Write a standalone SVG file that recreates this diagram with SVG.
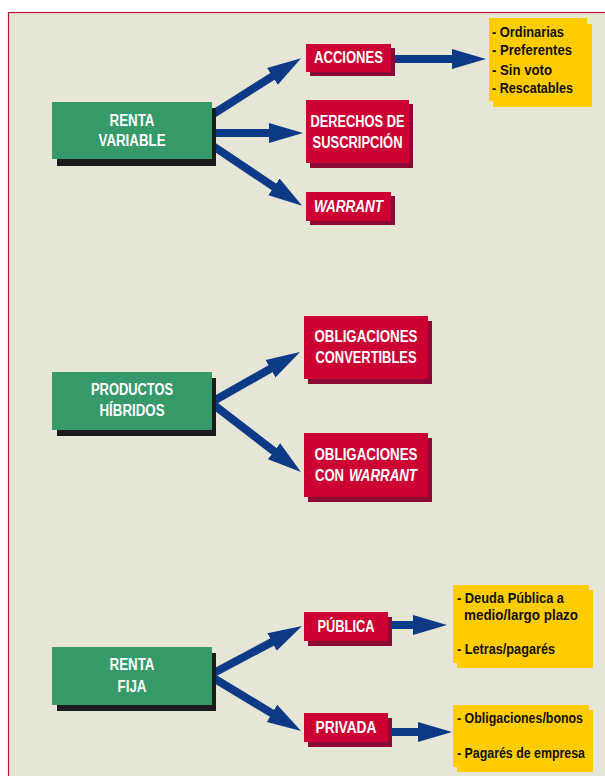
<svg xmlns="http://www.w3.org/2000/svg" width="605" height="776" viewBox="0 0 605 776">
  <style>
    .lbl { font-family: "Liberation Sans", Arial, sans-serif; font-weight: bold; font-size: 16px; fill: #ffffff; text-anchor: middle; }
    .start { text-anchor: start; }
    .lst { font-family: "Liberation Sans", Arial, sans-serif; font-weight: bold; font-size: 15px; fill: #111111; }
    .it { font-style: italic; }
    .green { fill: #35996a; }
    .gshadow { fill: #1b1b1b; }
    .red { fill: #cc0033; }
    .rshadow { fill: #880a35; }
    .yellow { fill: #ffcc00; }
    .conn line { stroke: #0c3a86; stroke-width: 8; fill: none; marker-end: url(#head); }
  </style>
  <defs>
    <marker id="head" markerUnits="userSpaceOnUse" markerWidth="40" markerHeight="24" viewBox="0 -12 40 24" refX="2" refY="0" orient="auto">
      <path d="M0,-10 L34,0 L0,10 Z" fill="#0c3a86"/>
    </marker>
  </defs>

  <!-- page and frame -->
  <rect x="0" y="0" width="605" height="776" fill="#ffffff"/>
  <rect x="8.5" y="12.5" width="620" height="800" fill="#e6e6d6" stroke="#b8163f" stroke-width="1.2"/>

  <!-- connectors -->
  <g id="connectors" class="conn">
    <line x1="210" y1="116" x2="274.1" y2="75.3"/>
    <line x1="210" y1="133" x2="271" y2="133"/>
    <line x1="210" y1="144" x2="275.6" y2="188"/>
    <line x1="390" y1="59" x2="454" y2="59"/>
    <line x1="210" y1="403" x2="272.2" y2="367.8"/>
    <line x1="210" y1="402" x2="275.6" y2="452.5"/>
    <line x1="210" y1="675" x2="273.8" y2="641.1"/>
    <line x1="210" y1="676" x2="273.7" y2="714.4"/>
    <line x1="388" y1="625" x2="415" y2="625"/>
    <line x1="388" y1="732" x2="420" y2="732"/>
  </g>

  <!-- renta variable -->
  <g id="renta-variable">
    <rect class="gshadow" x="57" y="108" width="159" height="58"/>
    <rect class="green" x="52" y="102" width="160" height="57"/>
    <text class="lbl" x="132" y="126" textLength="45" lengthAdjust="spacingAndGlyphs">RENTA</text>
    <text class="lbl" x="132" y="146" textLength="67" lengthAdjust="spacingAndGlyphs">VARIABLE</text>
  </g>

  <g id="acciones">
    <rect class="rshadow" x="310" y="48" width="85" height="28"/>
    <rect class="red" x="306" y="44" width="85" height="28"/>
    <text class="lbl" x="348.5" y="63" textLength="69" lengthAdjust="spacingAndGlyphs">ACCIONES</text>
  </g>

  <g id="derechos">
    <rect class="rshadow" x="310" y="104" width="103" height="64"/>
    <rect class="red" x="306" y="100" width="103" height="63"/>
    <text class="lbl" x="357.5" y="127" textLength="94" lengthAdjust="spacingAndGlyphs">DERECHOS DE</text>
    <text class="lbl" x="357.5" y="148" textLength="90" lengthAdjust="spacingAndGlyphs">SUSCRIPCIÓN</text>
  </g>

  <g id="warrant">
    <rect class="rshadow" x="310" y="196" width="85" height="29"/>
    <rect class="red" x="306" y="192" width="85" height="29"/>
    <text class="lbl it" x="348.5" y="212" textLength="69" lengthAdjust="spacingAndGlyphs">WARRANT</text>
  </g>

  <g id="tipos-acciones">
    <rect class="yellow" x="493" y="24" width="99" height="83"/>
    <rect class="yellow" x="489" y="18" width="98" height="83"/>
    <text class="lst" x="492" y="37" textLength="72" lengthAdjust="spacingAndGlyphs">- Ordinarias</text>
    <text class="lst" x="492" y="55" textLength="80" lengthAdjust="spacingAndGlyphs">- Preferentes</text>
    <text class="lst" x="492" y="75" textLength="60" lengthAdjust="spacingAndGlyphs">- Sin voto</text>
    <text class="lst" x="492" y="93" textLength="81" lengthAdjust="spacingAndGlyphs">- Rescatables</text>
  </g>

  <!-- productos híbridos -->
  <g id="productos-hibridos">
    <rect class="gshadow" x="57" y="378" width="159" height="58"/>
    <rect class="green" x="52" y="372" width="160" height="58"/>
    <text class="lbl" x="132" y="395" textLength="82" lengthAdjust="spacingAndGlyphs">PRODUCTOS</text>
    <text class="lbl" x="132" y="416" textLength="65" lengthAdjust="spacingAndGlyphs">HÍBRIDOS</text>
  </g>

  <g id="obligaciones-convertibles">
    <rect class="rshadow" x="308" y="321" width="124" height="63"/>
    <rect class="red" x="304" y="316" width="124" height="63"/>
    <text class="lbl" x="366" y="342" textLength="103" lengthAdjust="spacingAndGlyphs">OBLIGACIONES</text>
    <text class="lbl" x="366" y="363" textLength="101" lengthAdjust="spacingAndGlyphs">CONVERTIBLES</text>
  </g>

  <g id="obligaciones-warrant">
    <rect class="rshadow" x="308" y="438" width="124" height="64"/>
    <rect class="red" x="304" y="433" width="124" height="64"/>
    <text class="lbl" x="366" y="460" textLength="103" lengthAdjust="spacingAndGlyphs">OBLIGACIONES</text>
    <text class="lbl start" x="315" y="481" textLength="29" lengthAdjust="spacingAndGlyphs">CON</text>
    <text class="lbl start it" x="349" y="481" textLength="68" lengthAdjust="spacingAndGlyphs">WARRANT</text>
  </g>

  <!-- renta fija -->
  <g id="renta-fija">
    <rect class="gshadow" x="57" y="653" width="159" height="58"/>
    <rect class="green" x="52" y="647" width="160" height="58"/>
    <text class="lbl" x="132" y="670" textLength="45" lengthAdjust="spacingAndGlyphs">RENTA</text>
    <text class="lbl" x="132" y="692" textLength="29" lengthAdjust="spacingAndGlyphs">FIJA</text>
  </g>

  <g id="publica">
    <rect class="rshadow" x="308" y="617" width="84" height="29"/>
    <rect class="red" x="304" y="612" width="84" height="29"/>
    <text class="lbl" x="346" y="632" textLength="57" lengthAdjust="spacingAndGlyphs">PÚBLICA</text>
  </g>

  <g id="privada">
    <rect class="rshadow" x="308" y="718" width="84" height="29"/>
    <rect class="red" x="304" y="713" width="84" height="29"/>
    <text class="lbl" x="346" y="733" textLength="61" lengthAdjust="spacingAndGlyphs">PRIVADA</text>
  </g>

  <g id="tipos-publica">
    <rect class="yellow" x="457" y="590" width="136" height="78"/>
    <rect class="yellow" x="453" y="585" width="136" height="78"/>
    <text class="lst" x="457" y="603" textLength="107" lengthAdjust="spacingAndGlyphs">- Deuda Pública a</text>
    <text class="lst" x="464" y="620" textLength="114" lengthAdjust="spacingAndGlyphs">medio/largo plazo</text>
    <text class="lst" x="457" y="654" textLength="98" lengthAdjust="spacingAndGlyphs">- Letras/pagarés</text>
  </g>

  <g id="tipos-privada">
    <rect class="yellow" x="457" y="710" width="136" height="62"/>
    <rect class="yellow" x="453" y="705" width="136" height="62"/>
    <text class="lst" x="457" y="723" textLength="126" lengthAdjust="spacingAndGlyphs">- Obligaciones/bonos</text>
    <text class="lst" x="457" y="758" textLength="128" lengthAdjust="spacingAndGlyphs">- Pagarés de empresa</text>
  </g>
</svg>
